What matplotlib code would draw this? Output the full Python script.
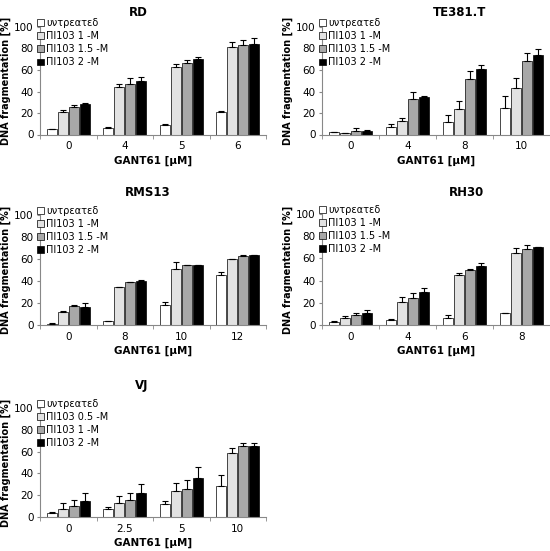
import numpy as np
import matplotlib.pyplot as plt

plt.rcParams['font.family'] = ['DejaVu Sans']

# series labels (as they appear in the original, Symbol-font mangled)
lab_untr = 'υντρεατεδ'
labels_std = [lab_untr, 'ΠΙ103 1 -Μ', 'ΠΙ103 1.5 -Μ', 'ΠΙ103 2 -Μ']
labels_vj = [lab_untr, 'ΠΙ103 0.5 -Μ', 'ΠΙ103 1 -Μ', 'ΠΙ103 2 -Μ']

# RD
rd_x = ['0', '4', '5', '6']
rd_vals = [[5, 6.5, 9.3, 20.5], [21.3, 43.8, 63, 81.8], [26, 47, 66.7, 83], [28.4, 50, 69.8, 84]]
rd_err = [[0.5, 0.5, 0.3, 1], [1.5, 3.4, 3, 4.3], [1.2, 5.2, 2.5, 4.6], [1.2, 3.7, 2.5, 5.8]]

# TE381.T
te_x = ['0', '4', '8', '10']
te_vals = [[2, 6.8, 12, 24.4], [1.5, 12.3, 23.8, 43], [3.4, 32.7, 51.2, 68.8], [3.7, 35, 60.5, 74]]
te_err = [[0.6, 3, 6, 11], [0.3, 2.8, 7.7, 9.3], [2.8, 6.5, 8, 7.4], [0.3, 0.6, 4.6, 5.9]]

# RMS13
rms_x = ['0', '8', '10', '12']
rms_vals = [[1.2, 3.6, 18.2, 45.5], [12.1, 34.2, 50.6, 59.7], [17.3, 39, 54.5, 62.7], [16.7, 40.3, 54.5, 63.3]]
rms_err = [[0.3, 0.3, 2.4, 2.4], [0.6, 0.3, 7, 0.5], [0.5, 0.5, 0.5, 0.5], [3, 0.5, 0.5, 0.5]]

# RH30
rh_x = ['0', '4', '6', '8']
rh_vals = [[3, 4.2, 6.6, 10.5], [6.6, 21, 44.7, 65.2], [9, 24.3, 49.5, 68.5], [10.5, 29.4, 53.5, 70]]
rh_err = [[0.3, 1, 2.7, 0.6], [1.8, 4.5, 2.4, 3.9], [2.1, 4.2, 0.6, 3.6], [3, 4.2, 2.7, 0.3]]

# VJ
vj_x = ['0', '2.5', '5', '10']
vj_vals = [[3.3, 7, 11.5, 28.2], [7.6, 13, 23.6, 59], [9.7, 16, 25.8, 65], [14.5, 22, 35.8, 65]]
vj_err = [[0.9, 2.4, 3.6, 10.6], [4.8, 6.7, 7.6, 4.5], [5.5, 6, 8.5, 3.3], [7.6, 8.5, 10.3, 3]]

colors = ['white', '#e2e2e2', '#a8a8a8', 'black']

fig = plt.figure(figsize=(5.5, 5.51), dpi=100)
W, H = 550.0, 551.0


def panel(left_px, right_px, y0_px, y100_px, title, title_x, title_y, xcats, vals, errs, labels):
    ax = fig.add_axes([left_px / W, 1 - y0_px / H, (right_px - left_px) / W, (y0_px - y100_px) / H])
    n = len(xcats)
    x = np.arange(n)
    bw = 0.18
    for k in range(4):
        pos = x + (k - 1.5) * (bw + 0.015)
        e = np.array(errs[k])
        ax.bar(pos, vals[k], bw, color=colors[k], edgecolor='black', linewidth=0.5,
               label=labels[k], zorder=2)
        ax.errorbar(pos, vals[k], yerr=[np.zeros(n), e], fmt='none', ecolor='black',
                    elinewidth=0.8, capsize=2.5, capthick=0.8, zorder=3)
    ax.set_xlim(-0.5, n - 0.5)
    ax.set_ylim(0, 100)
    ax.set_yticks(range(0, 101, 20))
    ax.set_xticks(x)
    ax.set_xticklabels(xcats)
    ax.set_xticks(np.arange(-0.5, n, 1), minor=True)
    ax.tick_params(axis='x', which='major', length=0, labelsize=7.5, pad=5)
    ax.tick_params(axis='x', which='minor', length=3, color='#888888', direction='out')
    ax.tick_params(axis='y', length=2.5, color='#888888', labelsize=7.5, pad=2)
    for s in ['top', 'right']:
        ax.spines[s].set_visible(False)
    for s in ['left', 'bottom']:
        ax.spines[s].set_color('#888888')
        ax.spines[s].set_linewidth(0.8)
    ax.set_xlabel('GANT61 [µM]', fontsize=7.5, fontweight='bold', labelpad=3)
    ax.set_ylabel('DNA fragmentation [%]', fontsize=7, fontweight='bold', labelpad=2)
    fig.text(title_x / W, 1 - title_y / H, title, fontsize=8.5, fontweight='bold',
             ha='center', va='center')
    ax.legend(loc='upper left', bbox_to_anchor=(-0.03, 1.12), frameon=False,
              fontsize=7, handlelength=0.7, handleheight=0.7, handletextpad=0.2,
              labelspacing=0.32, borderaxespad=0)
    return ax


panel(40, 266, 134.5, 27, 'RD', 138, 13, rd_x, rd_vals, rd_err, labels_std)
panel(322, 550, 134.5, 27, 'TE381.T', 460, 12, te_x, te_vals, te_err, labels_std)
panel(40, 266, 325, 215, 'RMS13', 148, 193, rms_x, rms_vals, rms_err, labels_std)
panel(322, 550, 325, 214, 'RH30', 467, 193, rh_x, rh_vals, rh_err, labels_std)
panel(40, 266, 517, 408, 'VJ', 142, 385, vj_x, vj_vals, vj_err, labels_vj)

fig.savefig('out.png', dpi=100)
